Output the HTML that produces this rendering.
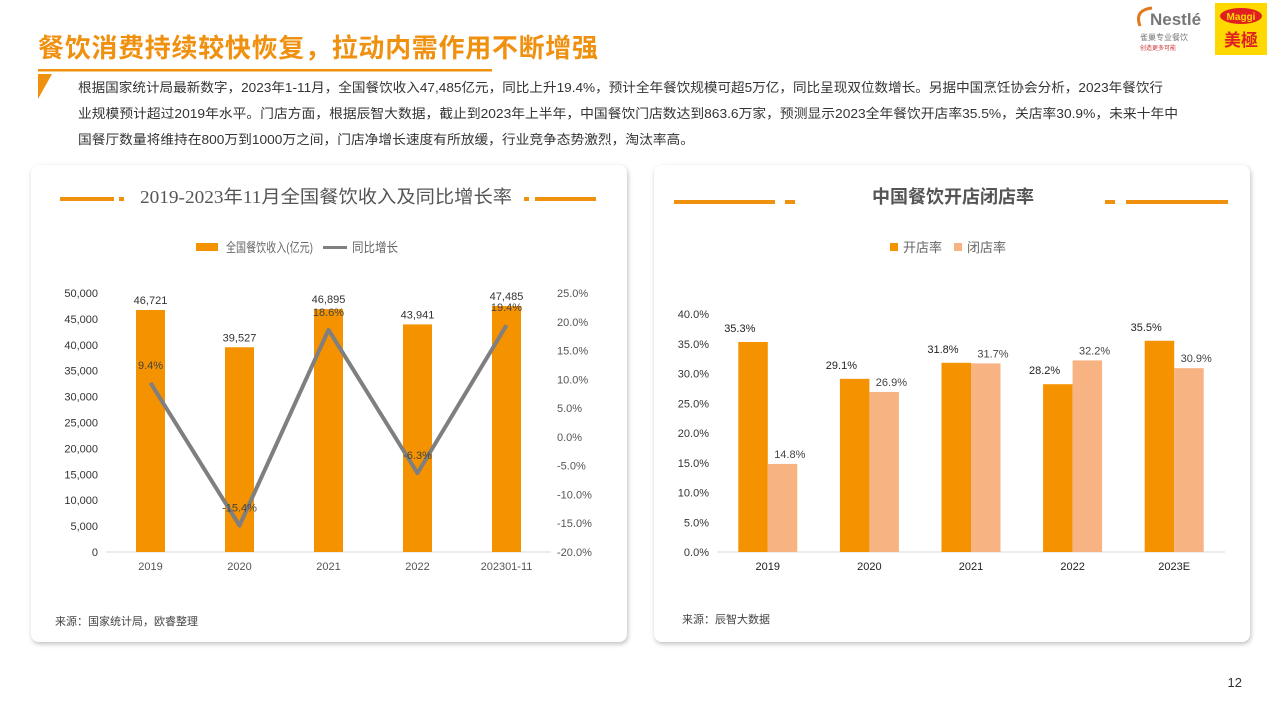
<!DOCTYPE html>
<html><head><meta charset="utf-8">
<style>
body{margin:0;width:1280px;height:720px;background:#fff;overflow:hidden;font-family:"Liberation Sans","Noto Sans CJK SC",sans-serif;}
svg{position:absolute;left:0;top:0}
</style></head>
<body>
<svg id="s" width="1280" height="720" viewBox="0 0 1280 720">
<defs>
<filter id="sh" x="-5%" y="-5%" width="110%" height="110%"><feDropShadow dx="1" dy="2" stdDeviation="2.5" flood-color="#888" flood-opacity="0.55"/></filter>
</defs>
<text x="38" y="57" font-size="26" font-weight="bold" fill="#f0900f" font-family="Liberation Sans, Noto Sans CJK SC, sans-serif" textLength="560">餐饮消费持续较快恢复，拉动内需作用不断增强</text>
<rect x="38" y="69" width="454" height="2.5" fill="#f0900f"/>
<polygon points="38,74 52,74 38,99" fill="#f0900f"/>
<g font-size="13" fill="#333" font-family="Liberation Sans, Noto Sans CJK SC, sans-serif">
<text x="78" y="92" textLength="1085" lengthAdjust="spacingAndGlyphs">根据国家统计局最新数字，2023年1-11月，全国餐饮收入47,485亿元，同比上升19.4%，预计全年餐饮规模可超5万亿，同比呈现双位数增长。另据中国烹饪协会分析，2023年餐饮行</text>
<text x="78" y="118" textLength="1100" lengthAdjust="spacingAndGlyphs">业规模预计超过2019年水平。门店方面，根据辰智大数据，截止到2023年上半年，中国餐饮门店数达到863.6万家，预测显示2023全年餐饮开店率35.5%，关店率30.9%，未来十年中</text>
<text x="78" y="144" textLength="616" lengthAdjust="spacingAndGlyphs">国餐厅数量将维持在800万到1000万之间，门店净增长速度有所放缓，行业竞争态势激烈，淘汰率高。</text>
</g>
<g>
<text x="1150" y="25" font-size="17" fill="#777" font-weight="bold" font-family="Liberation Sans, sans-serif">Nestlé</text>
<path d="M1140 26 Q1134 10 1152 8" stroke="#e07a20" stroke-width="3" fill="none"/>
<text x="1140" y="40" font-size="8" fill="#777" font-family="Liberation Sans, Noto Sans CJK SC, sans-serif">雀巢专业餐饮</text>
<text x="1140" y="50" font-size="6" fill="#c33" font-family="Liberation Sans, Noto Sans CJK SC, sans-serif">创造更多可能</text>
</g>
<g>
<rect x="1215" y="3" width="52" height="52" fill="#ffd800"/>
<ellipse cx="1241" cy="16" rx="21" ry="8" fill="#e02020"/>
<text x="1241" y="20" font-size="10" fill="#ffd800" font-weight="bold" text-anchor="middle" font-family="Liberation Sans, sans-serif">Maggi</text>
<text x="1241" y="46" font-size="17" fill="#e02020" font-weight="bold" text-anchor="middle" font-family="Liberation Sans, Noto Sans CJK SC, sans-serif">美極</text>
</g>
<rect x="31" y="165" width="596" height="477" rx="8" fill="#fff" filter="url(#sh)"/>
<rect x="654" y="165" width="596" height="477" rx="8" fill="#fff" filter="url(#sh)"/>
<g>
<rect x="60" y="197" width="54" height="4" fill="#f0900f"/><rect x="119" y="197" width="5" height="4" fill="#f0900f"/>
<text x="140" y="203" font-size="18" fill="#555" font-family="Liberation Serif, Noto Sans CJK SC, serif" textLength="372" lengthAdjust="spacingAndGlyphs">2019-2023年11月全国餐饮收入及同比增长率</text>
<rect x="524" y="197" width="5" height="4" fill="#f0900f"/><rect x="535" y="197" width="61" height="4" fill="#f0900f"/>
</g>
<g font-size="13" fill="#666" font-family="Liberation Sans, Noto Sans CJK SC, sans-serif">
<rect x="196" y="243" width="22" height="8" fill="#f59200"/><text x="226" y="252" textLength="87" lengthAdjust="spacingAndGlyphs">全国餐饮收入(亿元)</text>
<rect x="323" y="246" width="24" height="3" fill="#808080"/><text x="352" y="252" textLength="46" lengthAdjust="spacingAndGlyphs">同比增长</text>
</g>
<g>
<rect x="674" y="200" width="101" height="4" fill="#f0900f"/><rect x="785" y="200" width="10" height="4" fill="#f0900f"/>
<text x="953" y="203" font-size="18" fill="#555" font-weight="bold" text-anchor="middle" font-family="Liberation Sans, Noto Sans CJK SC, sans-serif">中国餐饮开店闭店率</text>
<rect x="1105" y="200" width="10" height="4" fill="#f0900f"/><rect x="1126" y="200" width="102" height="4" fill="#f0900f"/>
</g>
<g font-size="13" fill="#666" font-family="Liberation Sans, Noto Sans CJK SC, sans-serif">
<rect x="890" y="243" width="8" height="8" fill="#f59200"/><text x="903" y="252">开店率</text>
<rect x="954" y="243" width="8" height="8" fill="#f8b382"/><text x="967" y="252">闭店率</text>
</g>
<g id="left"></g>
<g id="right"></g>
<text x="55" y="625" font-size="11" fill="#444" font-family="Liberation Sans, Noto Sans CJK SC, sans-serif">来源：国家统计局，欧睿整理</text>
<text x="682" y="623" font-size="11" fill="#444" font-family="Liberation Sans, Noto Sans CJK SC, sans-serif">来源：辰智大数据</text>
<text x="1242" y="687" font-size="13" fill="#333" text-anchor="end">12</text>
</svg>
<script>
const categoriesL=["2019","2020","2021","2022","202301-11"];
const revenue=[46721,39527,46895,43941,47485];
const growth=[9.4,-15.4,18.6,-6.3,19.4];
const leftTicks=[0,5000,10000,15000,20000,25000,30000,35000,40000,45000,50000];
const rightTicks=[-20,-15,-10,-5,0,5,10,15,20,25];
const categoriesR=["2019","2020","2021","2022","2023E"];
const openRate=[35.3,29.1,31.8,28.2,35.5];
const closeRate=[14.8,26.9,31.7,32.2,30.9];
const rateTicks=[0,5,10,15,20,25,30,35,40];

const NS="http://www.w3.org/2000/svg";
function mk(p,t,a,txt){const e=document.createElementNS(NS,t);for(const k in a)e.setAttribute(k,a[k]);if(txt!==undefined)e.textContent=txt;p.appendChild(e);return e;}
const fnt="Liberation Sans, DejaVu Sans, sans-serif";
const L=document.getElementById('left');
const x0=106,x1=551,yb=552,yt=293;
const bw=(x1-x0)/categoriesL.length;
const yL=v=>yb-v/50000*(yb-yt);
const yR=p=>yb-(p+20)/45*(yb-yt);
const cx=i=>x0+bw*(i+0.5);
leftTicks.forEach(t=>{const e=mk(L,'text',{x:98,y:yL(t)+4,'font-size':11,fill:'#333','text-anchor':'end','font-family':fnt},t.toLocaleString('en-US'));

});
rightTicks.forEach(t=>{const e=mk(L,'text',{x:557,y:yR(t)+4,'font-size':11,fill:'#555','font-family':fnt},t.toFixed(1)+'%');

});
const ax=mk(L,'line',{x1:x0,x2:x1,y1:yb,y2:yb,stroke:'#d9d9d9','stroke-width':1});


revenue.forEach((v,i)=>{
 const r=mk(L,'rect',{x:cx(i)-14.5,y:yL(v),width:29,height:yb-yL(v),fill:'#f59200'});
 
 
 const t=mk(L,'text',{x:cx(i),y:yL(v)-6,'font-size':11,fill:'#333','text-anchor':'middle','font-family':fnt},v.toLocaleString('en-US'));
 
 
 const c=mk(L,'text',{x:cx(i),y:yb+18,'font-size':11,fill:'#555','text-anchor':'middle','font-family':fnt},categoriesL[i]);
 
 
});
const pl=mk(L,'polyline',{points:growth.map((g,i)=>cx(i)+','+yR(g)).join(' '),fill:'none',stroke:'#7f7f7f','stroke-width':4,'stroke-linejoin':'round'});


growth.forEach((g,i)=>{const t=mk(L,'text',{x:cx(i),y:yR(g)-14,'font-size':11,fill:'#444','text-anchor':'middle','font-family':fnt},g.toFixed(1)+'%');

});
const R=document.getElementById('right');
const rx0=717,rx1=1225,rb=552,rt=314;
const rw=(rx1-rx0)/categoriesR.length;
const yP=p=>rb-p/40*(rb-rt);
const rc=i=>rx0+rw*(i+0.5);
rateTicks.forEach(t=>{const e=mk(R,'text',{x:709,y:yP(t)+4,'font-size':11,fill:'#333','text-anchor':'end','font-family':fnt},t.toFixed(1)+'%');

});
const ax2=mk(R,'line',{x1:rx0,x2:rx1,y1:rb,y2:rb,stroke:'#d9d9d9','stroke-width':1});


categoriesR.forEach((c,i)=>{
 const a=mk(R,'rect',{x:rc(i)-29.5,y:yP(openRate[i]),width:29.5,height:rb-yP(openRate[i]),fill:'#f59200'});
 
 
 const b=mk(R,'rect',{x:rc(i),y:yP(closeRate[i]),width:29.5,height:rb-yP(closeRate[i]),fill:'#f8b382'});
 
 
 const ta=mk(R,'text',{x:rc(i)-28,y:yP(openRate[i])-10,'font-size':11,fill:'#222','text-anchor':'middle','font-family':fnt},openRate[i].toFixed(1)+'%');
 
 
 const tb=mk(R,'text',{x:rc(i)+22,y:yP(closeRate[i])-6,'font-size':11,fill:'#444','text-anchor':'middle','font-family':fnt},closeRate[i].toFixed(1)+'%');
 
 
 const ct=mk(R,'text',{x:rc(i),y:rb+18,'font-size':11,fill:'#222','text-anchor':'middle','font-family':fnt},c);
 
 
});
</script>
</body></html>
